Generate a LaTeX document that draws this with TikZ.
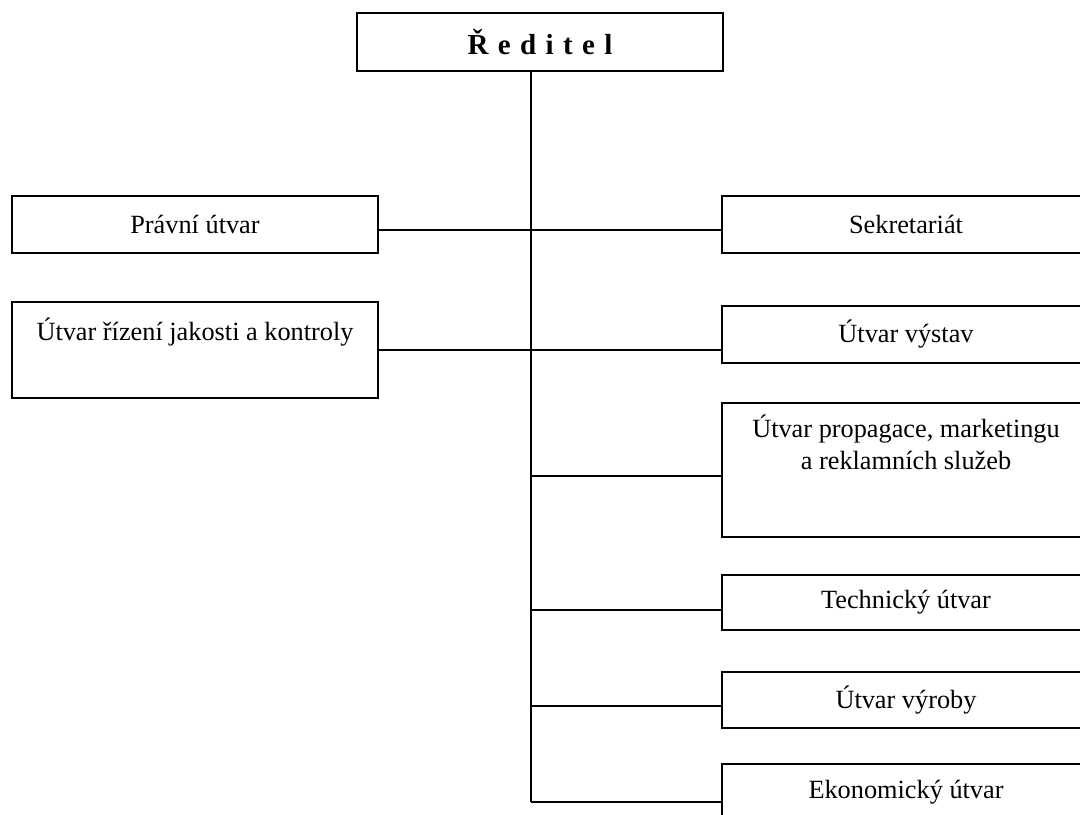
\documentclass[tikz,border=0pt]{standalone}
\usepackage{fontspec}
\setmainfont{Liberation Serif}
\newcommand\txtfont{\fontsize{13.15pt}{16pt}\selectfont}
\newcommand\headfont{\fontsize{14.5pt}{17pt}\selectfont\bfseries\spaceskip=4.7pt\relax}
\begin{document}
\begin{tikzpicture}[x=0.5pt,y=-0.5pt,
  box/.style={draw, line width=1pt, inner sep=0pt, font=\txtfont},
  lbox/.style={box, minimum width=183pt},
  rbox/.style={box, minimum width=184pt},
  lbl/.style={font=\txtfont, inner sep=0pt},
  conn/.style={line width=1pt}]
\useasboundingbox (0,0) rectangle (1080,814);
\clip (0,0) rectangle (1080,814);
% boxes
\node[box, minimum width=183pt, minimum height=29pt, font=\headfont] (red) at (540,42) {Ř e d i t e l};
\node[lbox, minimum height=28.5pt] (pravni) at (195,224.5) {Právní útvar};
\node[lbox, minimum height=48pt] (rizeni) at (195,350) {};
\node[lbl, anchor=base] (rizenit) at (195,340) {Útvar řízení jakosti a kontroly};
\node[rbox, minimum height=28.5pt] (sekr) at (906,224.5) {Sekretariát};
\node[rbox, minimum height=28.5pt] (vystav) at (906,334.5) {Útvar výstav};
\node[rbox, minimum height=67pt] (propag) at (906,470) {};
\node[lbl, anchor=base, align=center] (propagt) at (906,469) {Útvar propagace, marketingu\\a reklamních služeb};
\node[rbox, minimum height=27.5pt] (techn) at (906,602.5) {Technický útvar};
\node[rbox, minimum height=28pt] (vyroby) at (906,700) {Útvar výroby};
\node[rbox, minimum height=28.5pt] (ekon) at (906,792.5) {Ekonomický útvar};
% spine
\coordinate (top) at (530.5,71);
\coordinate (bot) at (530.5,802);
\coordinate (j1) at (530.5,230);
\coordinate (j2) at (530.5,350);
\coordinate (j3) at (530.5,476);
\coordinate (j4) at (530.5,610);
\coordinate (j5) at (530.5,706);
\draw[conn] (top |- red.south) -- (bot);
\draw[conn] (j1 -| pravni.east) -- (j1 -| sekr.west);
\draw[conn] (j2 -| rizeni.east) -- (j2 -| vystav.west);
\draw[conn] (j3) -- (j3 -| propag.west);
\draw[conn] (j4) -- (j4 -| techn.west);
\draw[conn] (j5) -- (j5 -| vyroby.west);
\draw[conn] (bot) -- (bot -| ekon.west);
\end{tikzpicture}
\end{document}
